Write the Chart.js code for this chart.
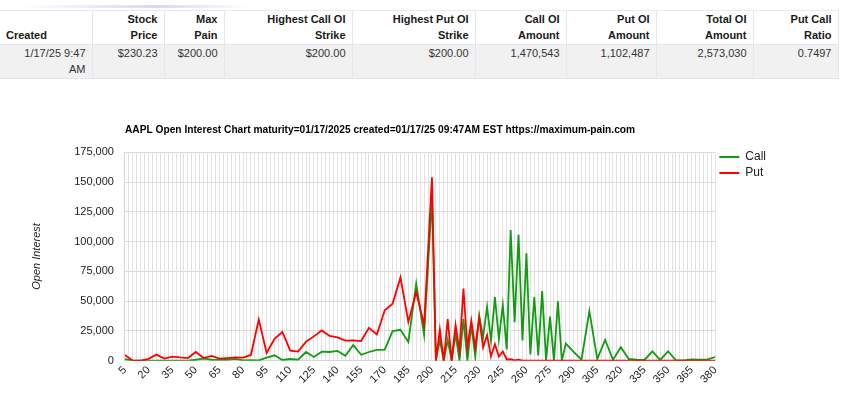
<!DOCTYPE html>
<html>
<head>
<meta charset="utf-8">
<script src="https://cdn.jsdelivr.net/npm/chart.js@4.4.1/dist/chart.umd.min.js"></script>
<style>
  body { margin: 0; width: 842px; height: 400px; overflow: hidden; background: #fff; font-family: Arial, "Liberation Sans", sans-serif; }
  .glow { position: absolute; left: 20px; top: 5px; width: 230px; height: 3px;
    background: linear-gradient(to right, rgba(235,232,245,0), rgba(205,196,235,0.7) 60%, rgba(235,232,245,0)); }
  #summary { position: absolute; left: 0; top: 10px; width: 838px; table-layout: fixed; border-collapse: collapse;
    font-size: 11px; line-height: 16px; color: #333; }
  #summary th, #summary td { text-align: right; padding: 0 6px 1px 6px; border-left: 1px solid #e6e6ee; border-right: 1px solid #e6e6ee; }
  #summary th { font-weight: bold; color: #1a1a1a; vertical-align: bottom; height: 32px; border-top: 1px solid #e8e8ee; border-bottom: 1px solid #e4e4ec; }
  #summary td { background: #f1f1f1; vertical-align: top; height: 32px; border-bottom: 1px solid #e2e2ea; }
  #summary tr > :first-child { border-left: none; }
  #chartBox { position: absolute; left: 0; top: 115px; }
</style>
</head>
<body>
<div class="glow"></div>
<table id="summary">
  <colgroup>
    <col style="width:92px"><col style="width:72px"><col style="width:60px"><col style="width:128px"><col style="width:123px">
    <col style="width:91px"><col style="width:90px"><col style="width:97px"><col style="width:85px">
  </colgroup>
  <tr>
    <th style="text-align:left">Created</th><th>Stock<br>Price</th><th>Max<br>Pain</th><th>Highest Call OI<br>Strike</th>
    <th>Highest Put OI<br>Strike</th><th>Call OI<br>Amount</th><th>Put OI<br>Amount</th><th>Total OI<br>Amount</th><th>Put Call<br>Ratio</th>
  </tr>
  <tr>
    <td>1/17/25 9:47<br>AM</td><td>$230.23</td><td>$200.00</td><td>$200.00</td><td>$200.00</td>
    <td>1,470,543</td><td>1,102,487</td><td>2,573,030</td><td>0.7497</td>
  </tr>
</table>
<div id="chartBox"><canvas id="oiChart" width="842" height="285"></canvas></div>
<script>
// strikes (5 wide, 2.5 wide between 200 and 285)
const strikes = [
  5, 10, 15, 20, 25, 30, 35, 40, 45, 50, 55, 60, 65, 70, 75, 80, 85, 90, 95, 100,
  105, 110, 115, 120, 125, 130, 135, 140, 145, 150, 155, 160, 165, 170, 175, 180, 185, 190, 195, 200,
  202.5, 205, 207.5, 210, 212.5, 215, 217.5, 220, 222.5, 225, 227.5, 230, 232.5, 235, 237.5, 240,
  242.5, 245, 247.5, 250, 252.5, 255, 257.5, 260, 262.5, 265, 267.5, 270, 272.5, 275, 277.5, 280, 282.5, 285,
  290, 295, 300, 305, 310, 315, 320, 325, 330, 335, 340, 345, 350, 355, 360, 365, 370, 375, 380
];
const callOI = [
  1400, 0, 0, 0, 0, 0, 0, 0, 0, 800, 1700, 800, 600, 800, 1500, 300, 500, 300, 2500, 4500,
  600, 1400, 800, 7300, 3100, 7600, 7300, 8200, 4200, 13200, 5000, 7300, 9000, 9300, 24800, 25900, 15800, 64800, 21700, 137000,
  0, 17500, 0, 17500, 0, 22500, 0, 35200, 0, 30000, 3400, 38000, 20000, 45300, 16900, 53500,
  18000, 46800, 9500, 109600, 32400, 105600, 16900, 90100, 5300, 53500, 4500, 58500, 500, 37000, 0, 49900, 0, 14400,
  7500, 800, 41700, 1400, 17500, 800, 11300, 1400, 800, 600, 7900, 600, 7900, 300, 300, 1100, 800, 1100, 3100
];
const putOI = [
  4800, 0, 0, 1500, 5100, 1700, 3400, 2700, 2200, 7300, 2200, 4000, 1700, 2200, 2800, 2500, 4800, 34600, 6500, 18300,
  24100, 8500, 7600, 16000, 20400, 25400, 20800, 19600, 16800, 17000, 16500, 27600, 22000, 42300, 47900, 69900, 32600, 57700, 30000, 154000,
  0, 26300, 0, 35000, 0, 30100, 8500, 60600, 11000, 33600, 11200, 36000, 11200, 21500, 3600, 13800,
  3400, 7800, 1000, 1200, 300, 900, 0, 0, 0, 0, 0, 0, 0, 0, 0, 0, 0, 0,
  0, 0, 0, 0, 0, 0, 0, 0, 0, 0, 0, 0, 0, 0, 0, 0, 0, 0, 0
];
const seriesNames = ["Call", "Put"];
const chartTitle = "AAPL Open Interest Chart maturity=01/17/2025 created=01/17/25 09:47AM EST https://maximum-pain.com";

Chart.defaults.font.family = 'Arial, "Liberation Sans", sans-serif';
Chart.defaults.font.size = 11;
Chart.defaults.color = "#222";

const toPoints = (vals) => strikes.map((s, i) => ({ x: s, y: vals[i] }));

new Chart(document.getElementById("oiChart").getContext("2d"), {
  type: "line",
  data: {
    datasets: [
      { label: seriesNames[0], data: toPoints(callOI), borderColor: "#139b13", backgroundColor: "#139b13",
        borderWidth: 1.8, pointRadius: 0, tension: 0, order: 1 },
      { label: seriesNames[1], data: toPoints(putOI), borderColor: "#ff0000", backgroundColor: "#ff0000",
        borderWidth: 1.8, pointRadius: 0, tension: 0, order: 0 }
    ]
  },
  options: {
    responsive: false,
    devicePixelRatio: 1,
    animation: false,
    layout: { padding: { top: 5, right: 66, bottom: 11, left: 0 } },
    plugins: {
      title: {
        display: true, text: chartTitle, align: "start", fullSize: false, color: "#000",
        font: { size: 10.2, weight: "bold" }, padding: { top: 4, bottom: 16 }
      },
      legend: {
        position: "right", align: "start", fullSize: true,
        title: { display: true, text: " ", font: { size: 10 }, padding: { top: 0, bottom: 15 } },
        labels: {
          usePointStyle: true, pointStyle: "line", pointStyleWidth: 20, boxHeight: 12,
          padding: 4, color: "#222", font: { size: 12 },
          sort: (a, b) => a.datasetIndex - b.datasetIndex
        }
      },
      tooltip: { enabled: false }
    },
    scales: {
      x: {
        type: "linear", min: 5, max: 380,
        grid: { color: "#e2e2e2", drawTicks: false },
        border: { color: "#d4d4d4" },
        ticks: {
          stepSize: 2.5, autoSkip: false, maxRotation: 45, minRotation: 45, padding: 3, color: "#222",
          callback: (v) => ((v - 5) % 15 === 0 ? String(v) : "")
        }
      },
      y: {
        min: 0, max: 175000,
        grid: { color: "#dcdcdc", drawTicks: false },
        border: { color: "#d4d4d4" },
        ticks: { stepSize: 25000, padding: 11, color: "#222" },
        title: {
          display: true, text: "Open Interest", color: "#222",
          font: { size: 11, style: "italic" }, padding: { top: 30, bottom: 20 }
        }
      }
    }
  }
});
</script>
</body>
</html>
